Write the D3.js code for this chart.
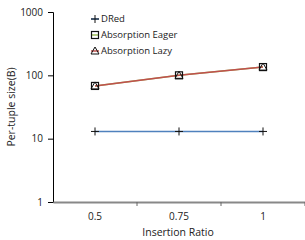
<!DOCTYPE html>
<html>
<head>
<meta charset="utf-8">
<script src="https://cdn.jsdelivr.net/npm/d3@7"></script>
<style>
  body { margin: 0; background: #fff; }
  text { font-family: "Open Sans", sans-serif; fill: #222; }
</style>
</head>
<body>
<div id="chart"></div>
<script>
const categories = ['0.5', '0.75', '1'];
const dred = [13, 13, 13];
const absEager = [68, 100, 135];
const absLazy = [68, 100, 135];
const yTicks = [1, 10, 100, 1000];

const series = [
  { name: 'DRed', values: dred, color: '#4f81bd', marker: 'plus' },
  { name: 'Absorption Eager', values: absEager, color: '#9bbb59', marker: 'square' },
  { name: 'Absorption Lazy', values: absLazy, color: '#c0504d', marker: 'triangle' }
];

const width = 305, height = 240;
const margin = { top: 12, right: 0, bottom: 38, left: 53 };

const svg = d3.select('#chart').append('svg')
  .attr('width', width)
  .attr('height', height);

const x = d3.scaleBand()
  .domain(categories)
  .range([margin.left, width - margin.right]);

const y = d3.scaleLog()
  .domain([1, 1000])
  .range([height - margin.bottom, margin.top]);

// y axis
const yAxis = svg.append('g')
  .attr('transform', 'translate(' + margin.left + ',0)')
  .call(d3.axisLeft(y).tickValues(yTicks).tickFormat(d3.format('d')).tickSizeOuter(0).tickSize(5).tickPadding(5));
yAxis.select('.domain').attr('stroke', '#000');
yAxis.selectAll('.tick line').attr('stroke', '#000');
yAxis.selectAll('text').style('font-size', '10px').style('fill', '#222');

// x axis
const xAxis = svg.append('g')
  .attr('transform', 'translate(0,' + y(1) + ')')
  .call(d3.axisBottom(x).tickSize(0).tickPadding(11));
xAxis.select('.domain').attr('stroke', '#888').attr('stroke-width', 2);
xAxis.selectAll('text').style('font-size', '10px').style('fill', '#222');

// boundary ticks between categories
svg.append('g').selectAll('line')
  .data(categories)
  .enter().append('line')
  .attr('x1', d => x(d) + x.bandwidth())
  .attr('x2', d => x(d) + x.bandwidth())
  .attr('y1', y(1))
  .attr('y2', y(1) + 4)
  .attr('stroke', '#666');

// lines
const line = d3.line()
  .x((d, i) => x(categories[i]) + x.bandwidth() / 2)
  .y(d => y(d));

series.forEach(s => {
  svg.append('path')
    .datum(s.values)
    .attr('fill', 'none')
    .attr('stroke', s.color)
    .attr('stroke-width', 1.5)
    .attr('d', line);
});

function drawMarker(g, type, cx, cy) {
  if (type === 'plus') {
    g.append('path')
      .attr('d', `M${cx - 4},${cy}H${cx + 4}M${cx},${cy - 4}V${cy + 4}`)
      .attr('stroke', '#111').attr('stroke-width', 1).attr('fill', 'none');
  } else if (type === 'square') {
    g.append('rect')
      .attr('x', cx - 3.5).attr('y', cy - 3.5)
      .attr('width', 7).attr('height', 7)
      .attr('fill', 'none').attr('stroke', '#111').attr('stroke-width', 1.2);
  } else {
    g.append('path')
      .attr('d', `M${cx},${cy - 4}L${cx + 4},${cy + 3}L${cx - 4},${cy + 3}Z`)
      .attr('fill', 'none').attr('stroke', '#111').attr('stroke-width', 1);
  }
}

series.forEach(s => {
  const g = svg.append('g');
  s.values.forEach((v, i) => {
    drawMarker(g, s.marker, x(categories[i]) + x.bandwidth() / 2, y(v));
  });
});

// legend
const legend = svg.append('g').attr('transform', 'translate(95,19)');
series.forEach((s, i) => {
  const row = legend.append('g').attr('transform', 'translate(0,' + i * 16 + ')');
  row.append('line')
    .attr('x1', -4).attr('x2', 4).attr('y1', 0).attr('y2', 0)
    .attr('stroke', s.color).attr('stroke-width', 1.5);
  drawMarker(row, s.marker, 0, 0);
  row.append('text')
    .attr('x', 6).attr('y', 0).attr('dy', '0.35em')
    .style('font-size', '9.5px')
    .text(s.name);
});

// axis titles
svg.append('text')
  .attr('x', 178).attr('y', 236)
  .attr('text-anchor', 'middle')
  .style('font-size', '10.5px')
  .text('Insertion Ratio');

svg.append('text')
  .attr('transform', 'translate(15,107) rotate(-90)')
  .attr('text-anchor', 'middle')
  .style('font-size', '10.5px')
  .text('Per-tuple size(B)');
</script>
</body>
</html>
